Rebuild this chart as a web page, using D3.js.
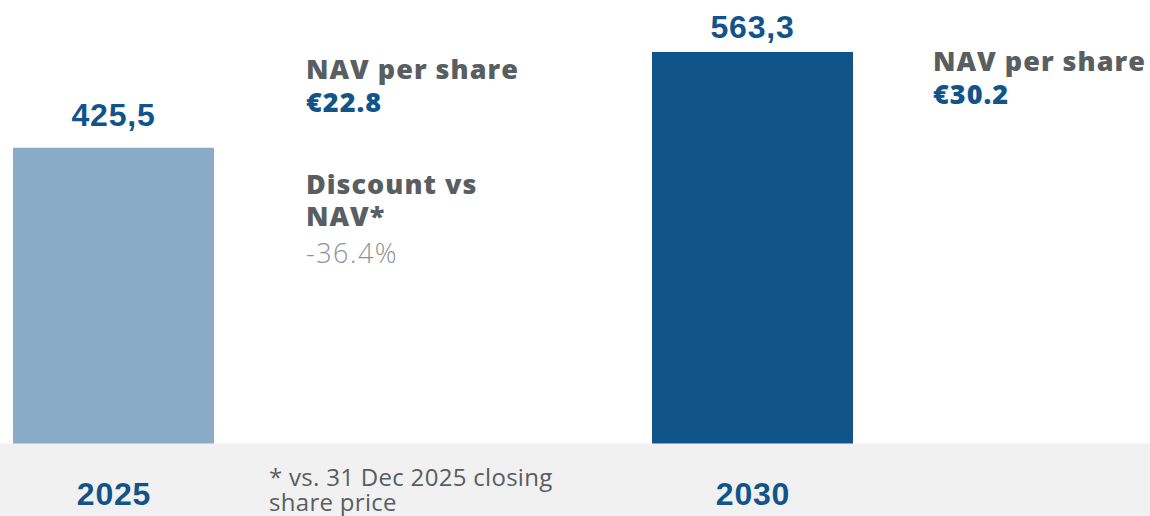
<!DOCTYPE html>
<html>
<head>
<meta charset="utf-8">
<script src="https://cdn.jsdelivr.net/npm/d3@7"></script>
<style>
  body { margin: 0; background: #fff; }
  svg text { font-family: "Open Sans", "Noto Sans", sans-serif; }
  .val { font-family: "Liberation Sans", Arial, sans-serif; font-weight: 700; font-size: 32px; fill: #11548a; letter-spacing: 0.8px; }
  .head { font-weight: 800; font-size: 27px; fill: #595e61; letter-spacing: 1px; }
  .nav { font-weight: 800; font-size: 27px; fill: #11548a; letter-spacing: 1px; }
  .disc { font-weight: 300; font-size: 27px; fill: #8f9294; letter-spacing: 1.5px; }
  .note { font-weight: 400; font-size: 24px; fill: #595e61; letter-spacing: 0.3px; }
</style>
</head>
<body>
<div id="chart"></div>
<script>
//---------------- data ----------------------
var years = ["2025", "2030"];
var values = [425.5, 563.3];
var valueLabels = ["425,5", "563,3"];
var navLabels = ["€22.8", "€30.2"];
var discountLabel = "-36.4%";
var footnote = ["* vs. 31 Dec 2025 closing", "share price"];

var w = 1150;
var h = 516;
var baseY = 443.5;
var barWidth = 201;
var colors = ["#89abc6", "#11548a"];

var svg = d3.select("#chart").append("svg").attr("width", w).attr("height", h);

//---------------- scales ----------------------
var xScale = d3.scalePoint()
    .domain(years)
    .range([113.5, 752.5]);

var yScale = d3.scaleLinear()
    .domain([0, 563.3])
    .range([baseY, 52]);

// grey band behind year labels
svg.append("rect")
    .attr("x", 0).attr("y", baseY)
    .attr("width", w).attr("height", h - baseY)
    .attr("fill", "#f1f1f1");

// bars
svg.selectAll("rect.bar")
    .data(years)
    .enter()
    .append("rect")
    .attr("class", "bar")
    .attr("x", function(d) { return xScale(d) - barWidth / 2; })
    .attr("y", function(d, i) { return yScale(values[i]); })
    .attr("width", barWidth)
    .attr("height", function(d, i) { return baseY - yScale(values[i]); })
    .attr("fill", function(d, i) { return colors[i]; });

// value labels (kept inside the top edge)
svg.selectAll("text.val")
    .data(years)
    .enter()
    .append("text")
    .attr("class", "val")
    .attr("x", function(d) { return xScale(d); })
    .attr("y", function(d, i) { return Math.max(yScale(values[i]) - 22, 38); })
    .attr("text-anchor", "middle")
    .text(function(d, i) { return valueLabels[i]; });

// year labels (x axis)
var xAxis = d3.axisBottom(xScale).tickSize(0).tickPadding(0);
var ax = svg.append("g")
    .attr("transform", "translate(0," + baseY + ")")
    .call(xAxis);
ax.select(".domain").remove();
ax.selectAll("text")
    .attr("class", "val")
    .attr("dy", null)
    .attr("y", 61)
    .style("font-size", "32px");

// NAV per share annotations
var navX = [306, 933];
var navY = [79, 71];
years.forEach(function(d, i) {
    svg.append("text").attr("class", "head")
        .attr("x", navX[i]).attr("y", navY[i])
        .text("NAV per share");
    svg.append("text").attr("class", "nav")
        .attr("x", navX[i]).attr("y", navY[i] + 33)
        .text(navLabels[i]);
});

// discount block
svg.append("text").attr("class", "head").attr("x", 306).attr("y", 194).text("Discount vs");
svg.append("text").attr("class", "head").attr("x", 306).attr("y", 226).text("NAV*");
svg.append("text").attr("class", "disc").attr("x", 306).attr("y", 263).text(discountLabel);

// footnote
svg.selectAll("text.note")
    .data(footnote)
    .enter()
    .append("text")
    .attr("class", "note")
    .attr("x", 269)
    .attr("y", function(d, i) { return 486 + i * 25; })
    .text(function(d) { return d; });
</script>
</body>
</html>
